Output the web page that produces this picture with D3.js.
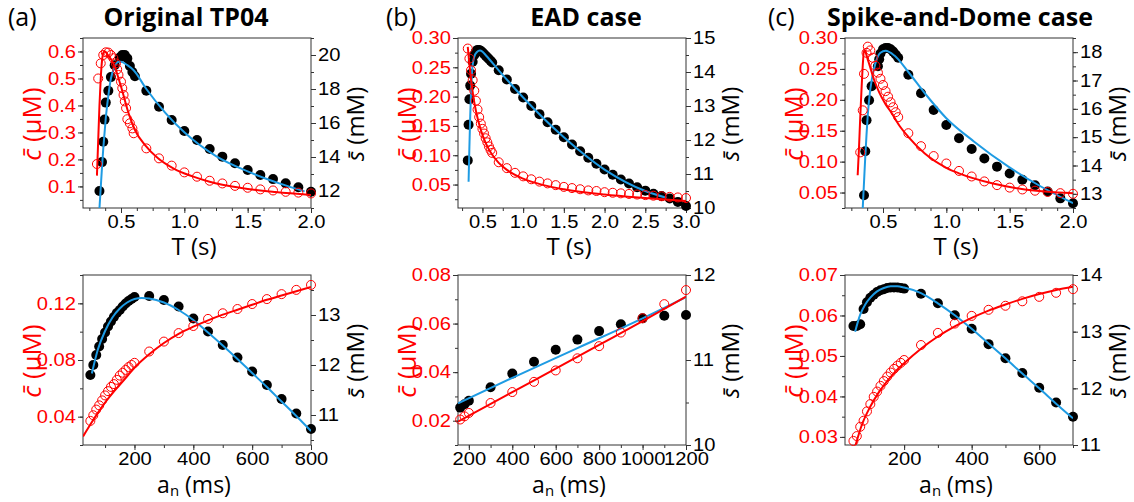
<!DOCTYPE html>
<html>
<head>
<meta charset="utf-8">
<script src="https://cdn.jsdelivr.net/npm/d3@7"></script>
<style>
body { margin: 0; background: #fff; }
svg { display: block; }
</style>
</head>
<body>
<svg id="fig" width="1134" height="502"></svg>
<script>
// ---- tick labels
const tTicksAC = [0.5, 1.0, 1.5, 2.0]
const tTicksB = [0.5, 1.0, 1.5, 2.0, 2.5, 3.0]
const cTicksATop = [0.1, 0.2, 0.3, 0.4, 0.5, 0.6]
const sTicksATop = [12, 14, 16, 18, 20]
const cTicksBTop = [0.05, 0.10, 0.15, 0.20, 0.25, 0.30]
const sTicksBTop = [10, 11, 12, 13, 14, 15]
const cTicksCTop = [0.05, 0.10, 0.15, 0.20, 0.25, 0.30]
const sTicksCTop = [13, 14, 15, 16, 17, 18]
const anTicksA = [200, 400, 600, 800]
const anTicksB = [200, 400, 600, 800, 1000, 1200]
const anTicksC = [200, 400, 600]
const cTicksABot = [0.04, 0.08, 0.12]
const sTicksABot = [11, 12, 13]
const cTicksBBot = [0.02, 0.04, 0.06, 0.08]
const sTicksBBot = [10, 11, 12]
const cTicksCBot = [0.03, 0.04, 0.05, 0.06, 0.07]
const sTicksCBot = [11, 12, 13, 14]

// ---- (a) Original TP04, top: T (s)
const aTopRedT = [0.31,0.32,0.34,0.36,0.38,0.40,0.42,0.44,0.46,0.47,0.48,0.50,0.51,0.52,0.53,0.54,0.55,0.57,0.59,0.60,0.7,0.8,0.9,1.0,1.1,1.2,1.3,1.4,1.5,1.6,1.7,1.8,1.9,2.0]
const aTopRedC = [0.183,0.50,0.556,0.587,0.597,0.596,0.587,0.575,0.556,0.534,0.513,0.488,0.464,0.439,0.415,0.39,0.349,0.334,0.315,0.297,0.241,0.204,0.177,0.152,0.136,0.121,0.111,0.102,0.095,0.089,0.085,0.080,0.077,0.074]
const aTopFitT = [0.31,0.32,0.33,0.34,0.35,0.36,0.37,0.40,0.44,0.50,0.56,0.61,0.69,0.79,0.92,1.06,1.2,1.45,1.72,2.0]
const aTopFitC = [0.14,0.27,0.40,0.50,0.565,0.595,0.60,0.585,0.556,0.47,0.371,0.309,0.253,0.205,0.165,0.138,0.117,0.094,0.079,0.068]
const aTopBlackT = [0.33,0.35,0.36,0.37,0.38,0.40,0.42,0.45,0.49,0.51,0.53,0.55,0.57,0.59,0.61,0.7,0.8,0.9,1.0,1.1,1.2,1.3,1.4,1.5,1.6,1.7,1.8,1.9,2.0]
const aTopBlackS = [12.0,13.7,14.9,16.2,17.2,17.9,18.7,19.4,19.85,20.0,20.0,19.8,19.35,19.0,18.75,17.9,16.96,16.18,15.53,15.0,14.47,14.02,13.63,13.24,12.94,12.7,12.45,12.22,11.96]
const aTopBlueT = [0.33,0.34,0.35,0.36,0.37,0.38,0.40,0.42,0.45,0.48,0.50,0.55,0.60,0.70,0.85,1.0,1.25,1.5,1.75,1.95]
const aTopBlueS = [11.0,12.2,13.4,14.5,15.4,16.3,17.6,18.6,19.3,19.6,19.6,19.4,19.1,18.0,16.6,15.45,14.05,13.15,12.45,11.98]

// ---- (b) EAD case, top
const bTopRedT = [0.32,0.34,0.36,0.38,0.40,0.42,0.44,0.46,0.48,0.50,0.52,0.54,0.56,0.58,0.60,0.62,0.7,0.8,0.9,1.0,1.1,1.2,1.3,1.4,1.5,1.6,1.7,1.8,1.9,2.0,2.1,2.2,2.3,2.4,2.5,2.6,2.7,2.8,2.9,3.0]
const bTopRedC = [0.282,0.265,0.245,0.228,0.21,0.193,0.178,0.165,0.154,0.145,0.137,0.129,0.122,0.115,0.109,0.104,0.088,0.078,0.070,0.064,0.059,0.055,0.052,0.049,0.046,0.044,0.042,0.040,0.039,0.037,0.036,0.035,0.034,0.033,0.032,0.031,0.030,0.029,0.028,0.027]
const bTopFitT = [0.32,0.34,0.36,0.38,0.40,0.45,0.50,0.55,0.60,0.70,0.80,1.0,1.25,1.5,2.0,2.5,3.0]
const bTopFitC = [0.285,0.255,0.23,0.208,0.19,0.158,0.135,0.118,0.105,0.087,0.075,0.06,0.049,0.042,0.033,0.027,0.022]
const bTopBlackT = [0.32,0.33,0.34,0.35,0.36,0.38,0.40,0.42,0.44,0.46,0.48,0.50,0.52,0.54,0.56,0.58,0.60,0.62,0.7,0.8,0.9,1.0,1.1,1.2,1.3,1.4,1.5,1.6,1.7,1.8,1.9,2.0,2.1,2.2,2.3,2.4,2.5,2.6,2.7,2.8,2.9,3.0]
const bTopBlackS = [11.4,12.45,13.2,13.6,13.95,14.3,14.5,14.6,14.65,14.65,14.62,14.58,14.53,14.48,14.43,14.38,14.33,14.28,14.05,13.78,13.5,13.25,13.0,12.76,12.52,12.3,12.08,11.87,11.67,11.48,11.3,11.13,10.98,10.84,10.72,10.61,10.51,10.42,10.35,10.28,10.18,10.06]
const bTopBlueT = [0.33,0.34,0.35,0.36,0.37,0.38,0.40,0.43,0.47,0.50,0.55,0.7,1.0,1.5,2.0,2.5,2.76]
const bTopBlueS = [10.77,11.8,12.7,13.4,13.9,14.2,14.45,14.58,14.63,14.6,14.47,14.05,13.25,12.08,11.13,10.5,10.3]

// ---- (c) Spike-and-Dome case, top
const cTopRedT = [0.32,0.34,0.35,0.37,0.38,0.40,0.42,0.44,0.46,0.48,0.50,0.52,0.54,0.56,0.58,0.60,0.62,0.7,0.8,0.9,1.0,1.1,1.2,1.3,1.4,1.5,1.6,1.7,1.8,1.9,2.0]
const cTopRedC = [0.115,0.183,0.242,0.276,0.286,0.28,0.268,0.255,0.244,0.234,0.224,0.214,0.205,0.196,0.188,0.18,0.172,0.146,0.125,0.109,0.097,0.085,0.076,0.068,0.062,0.058,0.055,0.053,0.051,0.049,0.048]
const cTopFitT = [0.30,0.31,0.32,0.33,0.34,0.35,0.36,0.38,0.40,0.43,0.47,0.52,0.57,0.63,0.70,0.83,1.0,1.1,1.36,1.62,2.0]
const cTopFitC = [0.078,0.12,0.17,0.215,0.255,0.28,0.278,0.265,0.252,0.232,0.212,0.193,0.178,0.158,0.14,0.113,0.09,0.081,0.065,0.055,0.049]
const cTopBlackT = [0.35,0.36,0.37,0.39,0.41,0.46,0.47,0.48,0.50,0.52,0.54,0.56,0.58,0.60,0.62,0.7,0.8,0.9,1.0,1.1,1.2,1.3,1.4,1.5,1.6,1.7,1.8,1.9,2.0]
const cTopBlackS = [12.95,14.5,15.6,16.3,16.8,17.5,17.75,17.95,18.1,18.15,18.15,18.1,18.02,17.92,17.8,17.2,16.55,15.96,15.43,14.96,14.58,14.25,13.96,13.72,13.5,13.3,13.08,12.84,12.67]
const cTopBlueT = [0.34,0.35,0.36,0.37,0.38,0.40,0.44,0.48,0.52,0.59,0.70,0.83,1.0,1.22,1.49,1.75,2.0]
const cTopBlueS = [12.5,13.4,14.3,15.1,15.8,16.7,17.6,17.98,18.05,17.88,17.3,16.55,15.67,14.84,13.96,13.25,12.67]

// ---- bottom row: a_n (ms)
const aBotAn = [50,60,70,80,90,100,110,120,130,140,150,160,170,180,190,200,250,300,350,400,450,500,550,600,650,700,750,800]
const aBotRedC = [0.037,0.041,0.045,0.048,0.0515,0.055,0.058,0.061,0.063,0.066,0.069,0.071,0.073,0.075,0.0765,0.078,0.086,0.093,0.099,0.104,0.109,0.113,0.116,0.1195,0.123,0.1265,0.1295,0.133]
const aBotBlackS = [11.8,12.0,12.2,12.37,12.52,12.65,12.77,12.87,12.96,13.04,13.1,13.17,13.23,13.28,13.32,13.36,13.38,13.3,13.17,12.93,12.67,12.4,12.15,11.87,11.6,11.32,11.03,10.72]
const aBotFitAn = [25,50,75,100,125,150,175,200,250,300,350,400,450,500,550,600,650,700,750,800]
const aBotFitC = [0.026,0.0345,0.0425,0.05,0.0565,0.0625,0.0685,0.0745,0.084,0.092,0.0985,0.1035,0.108,0.112,0.1155,0.119,0.1225,0.1255,0.1285,0.1315]
const aBotBlueAn = [55,75,100,125,150,175,200,225,250,300,350,400,450,500,550,600,650,700,750,800]
const aBotBlueS = [11.83,12.3,12.68,12.95,13.13,13.25,13.32,13.34,13.33,13.25,13.1,12.9,12.65,12.39,12.12,11.84,11.56,11.27,10.98,10.68]

const bBotAn = [160,180,200,300,400,500,600,700,800,900,1000,1100,1200]
const bBotRedC = [0.0205,0.0218,0.0232,0.0273,0.0318,0.036,0.0407,0.0457,0.0507,0.0563,0.0622,0.068,0.0738]
const bBotBlackS = [10.44,10.48,10.52,10.68,10.84,10.98,11.12,11.24,11.34,11.42,11.49,11.52,11.53]
const bBotFitAn = [150,400,600,800,1000,1200]
const bBotFitC = [0.0196,0.0318,0.0414,0.0512,0.061,0.0711]
const bBotBlueAn = [150,400,700,1000,1200]
const bBotBlueS = [10.49,10.79,11.14,11.49,11.74]

const cBotAn = [50,60,70,80,90,100,110,120,130,140,150,160,170,180,190,200,250,300,350,400,450,500,550,600,650,700]
const cBotRedC = [0.029,0.0302,0.0325,0.034,0.0363,0.0381,0.0399,0.0412,0.0426,0.0438,0.0449,0.0459,0.0468,0.0476,0.0483,0.049,0.0527,0.0557,0.058,0.0599,0.0614,0.0624,0.0635,0.0646,0.0656,0.0665]
const cBotBlackS = [13.1,13.1,13.13,13.4,13.52,13.6,13.65,13.7,13.73,13.75,13.77,13.78,13.78,13.78,13.77,13.76,13.67,13.5,13.29,13.05,12.78,12.53,12.27,12.01,11.75,11.5]
const cBotFitAn = [55,75,100,125,150,175,200,250,300,350,400,450,500,550,600,650,700]
const cBotFitC = [0.0276,0.033,0.0375,0.041,0.0438,0.0462,0.0482,0.0518,0.0548,0.0573,0.0594,0.0612,0.0627,0.0641,0.0653,0.0663,0.0671]
const cBotBlueAn = [55,70,85,100,120,140,160,180,200,250,300,350,400,450,500,550,600,650,700]
const cBotBlueS = [13.0,13.3,13.48,13.6,13.71,13.77,13.8,13.8,13.78,13.68,13.5,13.29,13.05,12.79,12.53,12.26,12.0,11.73,11.47]

const titles = ["Original TP04", "EAD case", "Spike-and-Dome case"]
const letters = ["(a)", "(b)", "(c)"]

const RED = "#ff0000", BLUE = "#1e9be3", AXIS = "#333"
const W = 228, H = 170
const colX = [83, 458, 845]
const rowY = [38, 275]
const tickFont = "'Liberation Sans', Arial, sans-serif"
const textFont = "'Open Sans', sans-serif"
const SX = 1.12

var svg = d3.select("#fig")

function zip(a, b) { return a.map((v, i) => [v, b[i]]) }

function minorTicks(dom, step) {
    let out = []
    let start = Math.ceil(dom[0] / step - 1e-9)
    for (let k = start; k * step <= dom[1] + 1e-9; k++) out.push(+(k * step).toFixed(6))
    return out
}

function styleTicks(g, color) {
    g.select(".domain").remove()
    g.selectAll("line").attr("stroke", AXIS)
    g.selectAll("text")
        .attr("font-family", tickFont)
        .attr("font-size", 18)
        .attr("fill", color)
        .each(function () {
            let t = d3.select(this)
            let x = +t.attr("x") || 0
            t.attr("x", x / SX).attr("transform", "scale(" + SX + ",1)")
        })
}

function drawPanel(p) {
    let g = svg.append("g").attr("transform", "translate(" + p.x0 + "," + p.y0 + ")")
    let x = d3.scaleLinear().domain(p.xDom).range([0, W])
    let yc = d3.scaleLinear().domain(p.cDom).range([H, 0])
    let ys = d3.scaleLinear().domain(p.sDom).range([H, 0])

    g.append("clipPath").attr("id", "clip-" + p.id)
        .append("rect").attr("width", W).attr("height", H)

    // minor ticks
    let gxm = g.append("g").attr("transform", "translate(0," + H + ")")
        .call(d3.axisBottom(x).tickValues(minorTicks(p.xDom, p.xMinor)).tickSize(3).tickFormat(""))
    styleTicks(gxm, "#000")
    let gcm = g.append("g")
        .call(d3.axisLeft(yc).tickValues(minorTicks(p.cDom, p.cMinor)).tickSize(3).tickFormat(""))
    styleTicks(gcm, RED)
    let gsm = g.append("g").attr("transform", "translate(" + W + ",0)")
        .call(d3.axisRight(ys).tickValues(minorTicks(p.sDom, p.sMinor)).tickSize(3).tickFormat(""))
    styleTicks(gsm, "#000")

    // major ticks
    let gx = g.append("g").attr("transform", "translate(0," + H + ")")
        .call(d3.axisBottom(x).tickValues(p.xTicks).tickSize(5).tickPadding(2).tickFormat(d3.format(p.xFmt)))
    styleTicks(gx, "#000")
    let gc = g.append("g")
        .call(d3.axisLeft(yc).tickValues(p.cTicks).tickSize(5).tickPadding(2).tickFormat(d3.format(p.cFmt)))
    styleTicks(gc, RED)
    let gs = g.append("g").attr("transform", "translate(" + W + ",0)")
        .call(d3.axisRight(ys).tickValues(p.sTicks).tickSize(5).tickPadding(2).tickFormat(d3.format("d")))
    styleTicks(gs, "#000")

    g.append("rect").attr("width", W).attr("height", H)
        .attr("fill", "none").attr("stroke", AXIS).attr("stroke-width", 1)

    let lineC = d3.line().x(d => x(d[0])).y(d => yc(d[1])).curve(d3.curveMonotoneX)
    let lineS = d3.line().x(d => x(d[0])).y(d => ys(d[1])).curve(d3.curveMonotoneX)

    g.append("g").selectAll("circle").data(zip(p.black[0], p.black[1])).join("circle")
        .attr("cx", d => x(d[0])).attr("cy", d => ys(d[1])).attr("r", 5).attr("fill", "#000")

    g.append("path").datum(zip(p.blue[0], p.blue[1]))
        .attr("clip-path", "url(#clip-" + p.id + ")")
        .attr("d", lineS).attr("fill", "none").attr("stroke", BLUE).attr("stroke-width", 2)

    g.append("g").selectAll("circle").data(zip(p.red[0], p.red[1])).join("circle")
        .attr("cx", d => x(d[0])).attr("cy", d => yc(d[1])).attr("r", 4.5)
        .attr("fill", "none").attr("stroke", RED).attr("stroke-width", 1)

    g.append("path").datum(zip(p.fit[0], p.fit[1]))
        .attr("clip-path", "url(#clip-" + p.id + ")")
        .attr("d", lineC).attr("fill", "none").attr("stroke", RED).attr("stroke-width", 2)

    // axis titles
    let xl = g.append("text").attr("x", W / 2 - 3).attr("y", p.bottom ? 218 : 217)
        .attr("text-anchor", "middle").attr("font-family", textFont).attr("font-size", p.bottom ? 23 : 24)
    if (p.bottom) {
        xl.append("tspan").text("a")
        xl.append("tspan").attr("font-size", 15).attr("dy", 3).text("n")
        xl.append("tspan").attr("dy", -3).text(" (ms)")
    } else {
        xl.text("T (s)")
    }

    let yl = g.append("text")
        .attr("transform", "translate(-51," + (H / 2 + 1) + ") rotate(-90)")
        .attr("text-anchor", "middle").attr("dy", "0.36em")
        .attr("font-family", textFont).attr("font-size", 26).attr("fill", RED)
    yl.append("tspan").attr("font-style", "italic").text("c\u0304")
    yl.append("tspan").text(" (\u03bcM)")

    let yr = g.append("text")
        .attr("transform", "translate(" + (W + 44) + "," + (H / 2 + 1) + ") rotate(-90)")
        .attr("text-anchor", "middle").attr("dy", "0.36em")
        .attr("font-family", textFont).attr("font-size", 24).attr("fill", "#000")
    yr.append("tspan").attr("font-style", "italic").text("s\u0304")
    yr.append("tspan").text(" (mM)")
}

let panels = [
    {id: "at", x0: colX[0], y0: rowY[0], xDom: [0.2, 2.0], xTicks: tTicksAC, xMinor: 0.125, xFmt: ".1f",
     cDom: [0.02, 0.65], cTicks: cTicksATop, cMinor: 0.05, cFmt: ".1f",
     sDom: [11, 21], sTicks: sTicksATop, sMinor: 1,
     red: [aTopRedT, aTopRedC], fit: [aTopFitT, aTopFitC], black: [aTopBlackT, aTopBlackS], blue: [aTopBlueT, aTopBlueS]},
    {id: "bt", x0: colX[1], y0: rowY[0], xDom: [0.2, 3.0], xTicks: tTicksB, xMinor: 0.25, xFmt: ".1f",
     cDom: [0.01, 0.30], cTicks: cTicksBTop, cMinor: 0.025, cFmt: ".2f",
     sDom: [10, 15], sTicks: sTicksBTop, sMinor: 0.5,
     red: [bTopRedT, bTopRedC], fit: [bTopFitT, bTopFitC], black: [bTopBlackT, bTopBlackS], blue: [bTopBlueT, bTopBlueS]},
    {id: "ct", x0: colX[2], y0: rowY[0], xDom: [0.2, 2.0], xTicks: tTicksAC, xMinor: 0.125, xFmt: ".1f",
     cDom: [0.025, 0.30], cTicks: cTicksCTop, cMinor: 0.025, cFmt: ".2f",
     sDom: [12.5, 18.5], sTicks: sTicksCTop, sMinor: 0.5,
     red: [cTopRedT, cTopRedC], fit: [cTopFitT, cTopFitC], black: [cTopBlackT, cTopBlackS], blue: [cTopBlueT, cTopBlueS]},
    {id: "ab", x0: colX[0], y0: rowY[1], bottom: true, xDom: [25, 800], xTicks: anTicksA, xMinor: 100, xFmt: "d",
     cDom: [0.02, 0.14], cTicks: cTicksABot, cMinor: 0.02, cFmt: ".2f",
     sDom: [10.4, 13.8], sTicks: sTicksABot, sMinor: 0.5,
     red: [aBotAn, aBotRedC], fit: [aBotFitAn, aBotFitC], black: [aBotAn, aBotBlackS], blue: [aBotBlueAn, aBotBlueS]},
    {id: "bb", x0: colX[1], y0: rowY[1], bottom: true, xDom: [150, 1200], xTicks: anTicksB, xMinor: 100, xFmt: "d",
     cDom: [0.01, 0.08], cTicks: cTicksBBot, cMinor: 0.01, cFmt: ".2f",
     sDom: [10, 12], sTicks: sTicksBBot, sMinor: 0.5,
     red: [bBotAn, bBotRedC], fit: [bBotFitAn, bBotFitC], black: [bBotAn, bBotBlackS], blue: [bBotBlueAn, bBotBlueS]},
    {id: "cb", x0: colX[2], y0: rowY[1], bottom: true, xDom: [25, 700], xTicks: anTicksC, xMinor: 100, xFmt: "d",
     cDom: [0.028, 0.07], cTicks: cTicksCBot, cMinor: 0.005, cFmt: ".2f",
     sDom: [11, 14], sTicks: sTicksCBot, sMinor: 0.5,
     red: [cBotAn, cBotRedC], fit: [cBotFitAn, cBotFitC], black: [cBotAn, cBotBlackS], blue: [cBotBlueAn, cBotBlueS]}
]

panels.forEach(drawPanel)

// panel letters and titles
let letterX = [8, 386, 768]
let titleX = [186, 586, 960]
for (let i = 0; i < 3; i++) {
    svg.append("text").attr("x", letterX[i]).attr("y", 26)
        .attr("font-family", textFont).attr("font-size", 25).text(letters[i])
    svg.append("text").attr("x", titleX[i]).attr("y", 26).attr("text-anchor", "middle")
        .attr("font-family", textFont).attr("font-size", 25).attr("font-weight", "bold").text(titles[i])
}
</script>
</body>
</html>
